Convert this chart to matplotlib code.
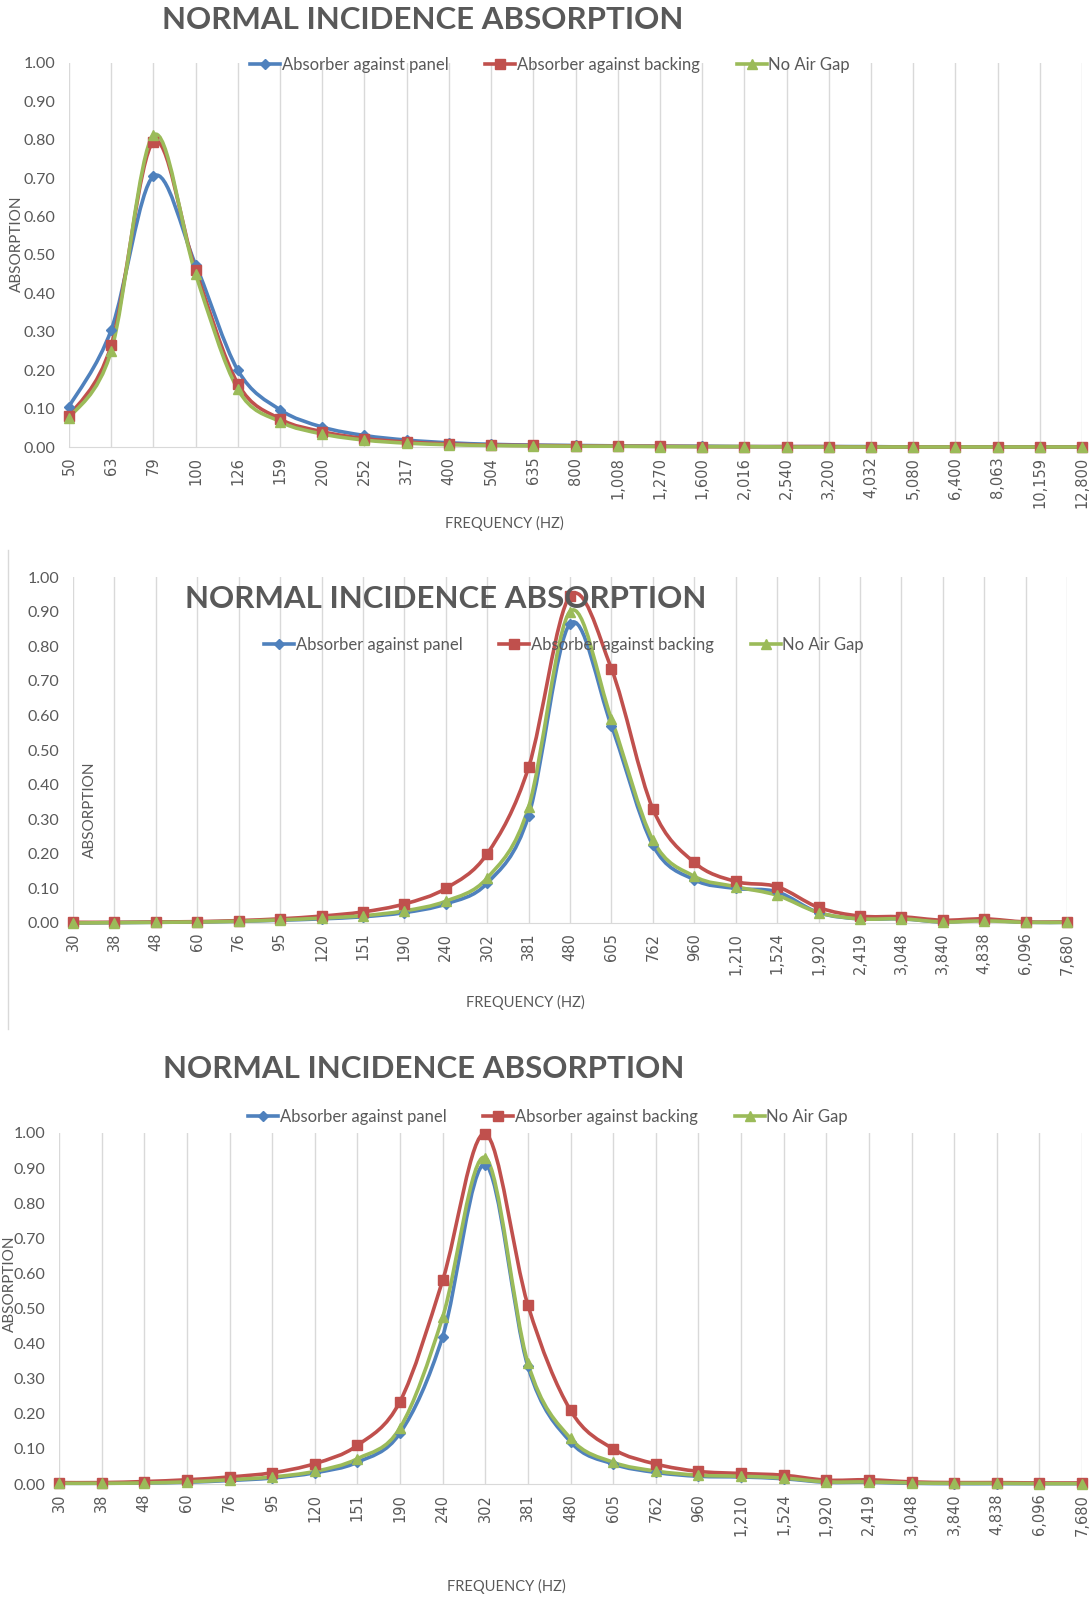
import numpy as np
import matplotlib
matplotlib.use("Agg")
import matplotlib.pyplot as plt
from matplotlib.path import Path
from matplotlib.patches import PathPatch
from matplotlib.lines import Line2D

plt.rcParams['font.family'] = ['Lato', 'DejaVu Sans']

# ---- data ----
freq1 = ["50", "63", "79", "100", "126", "159", "200", "252", "317", "400", "504", "635", "800",
         "1,008", "1,270", "1,600", "2,016", "2,540", "3,200", "4,032", "5,080", "6,400", "8,063",
         "10,159", "12,800"]
panel1_a = [0.105, 0.305, 0.705, 0.475, 0.200, 0.097, 0.052, 0.030, 0.018, 0.011, 0.007, 0.005, 0.004,
            0.003, 0.002, 0.002, 0.001, 0.001, 0.001, 0.001, 0.000, 0.000, 0.000, 0.000, 0.000]
panel1_b = [0.080, 0.265, 0.795, 0.460, 0.165, 0.073, 0.040, 0.022, 0.013, 0.008, 0.005, 0.004, 0.003,
            0.002, 0.002, 0.001, 0.001, 0.001, 0.001, 0.000, 0.000, 0.000, 0.000, 0.000, 0.000]
panel1_c = [0.075, 0.250, 0.812, 0.450, 0.150, 0.066, 0.034, 0.018, 0.010, 0.006, 0.004, 0.003, 0.002,
            0.002, 0.001, 0.001, 0.001, 0.000, 0.000, 0.000, 0.000, 0.000, 0.000, 0.000, 0.000]

freq2 = ["30", "38", "48", "60", "76", "95", "120", "151", "190", "240", "302", "381", "480", "605",
         "762", "960", "1,210", "1,524", "1,920", "2,419", "3,048", "3,840", "4,838", "6,096", "7,680"]
panel2_a = [0.000, 0.001, 0.002, 0.003, 0.005, 0.008, 0.012, 0.018, 0.030, 0.055, 0.115, 0.310, 0.865,
            0.570, 0.225, 0.125, 0.100, 0.090, 0.030, 0.012, 0.012, 0.003, 0.008, 0.002, 0.002]
panel2_b = [0.002, 0.002, 0.003, 0.004, 0.007, 0.012, 0.020, 0.032, 0.055, 0.100, 0.200, 0.450, 0.945,
            0.735, 0.330, 0.175, 0.120, 0.105, 0.045, 0.020, 0.018, 0.008, 0.012, 0.003, 0.003]
panel2_c = [0.000, 0.001, 0.002, 0.003, 0.005, 0.009, 0.014, 0.021, 0.035, 0.063, 0.130, 0.335, 0.900,
            0.590, 0.240, 0.135, 0.105, 0.080, 0.030, 0.012, 0.012, 0.003, 0.006, 0.002, 0.002]

freq3 = freq2
panel3_a = [0.002, 0.002, 0.003, 0.005, 0.010, 0.017, 0.032, 0.062, 0.145, 0.420, 0.910, 0.335, 0.120,
            0.057, 0.033, 0.022, 0.020, 0.015, 0.005, 0.005, 0.002, 0.001, 0.001, 0.001, 0.001]
panel3_b = [0.004, 0.004, 0.007, 0.012, 0.020, 0.032, 0.058, 0.110, 0.235, 0.580, 0.998, 0.510, 0.210,
            0.100, 0.057, 0.036, 0.030, 0.025, 0.011, 0.012, 0.006, 0.004, 0.004, 0.003, 0.003]
panel3_c = [0.002, 0.002, 0.003, 0.006, 0.012, 0.020, 0.036, 0.072, 0.160, 0.475, 0.930, 0.345, 0.130,
            0.062, 0.037, 0.025, 0.022, 0.017, 0.006, 0.006, 0.003, 0.002, 0.002, 0.001, 0.001]

series_names = ["Absorber against panel", "Absorber against backing", "No Air Gap"]
colors = ["#4F81BD", "#C0504D", "#9BBB59"]
markers = ["D", "s", "^"]
msizes = [5, 7, 7]

W, H = 1089, 1598
TXT = "#595959"


def fx(px):
    return px / W


def fy(py):
    return 1 - py / H


def smooth_path(x, y):
    # Excel-style smoothed line: cubic bezier through each point
    pts = np.column_stack([x, y]).astype(float)
    n = len(pts)
    verts = [pts[0]]
    codes = [Path.MOVETO]
    for i in range(n - 1):
        p0 = pts[i - 1] if i > 0 else pts[i]
        p1 = pts[i]
        p2 = pts[i + 1]
        p3 = pts[i + 2] if i + 2 < n else pts[i + 1]
        c1 = p1 + (p2 - p0) / 6.0
        c2 = p2 - (p3 - p1) / 6.0
        verts += [c1, c2, p2]
        codes += [Path.CURVE4] * 3
    return Path(verts, codes)


fig = plt.figure(figsize=(W / 100, H / 100), dpi=100)

# panel boxes in pixels: left, right, top(1.00), bottom(0.00)
panels = [
    dict(freq=freq1, data=[panel1_a, panel1_b, panel1_c], box=(69, 1082, 63, 447),
         title=(423, 20), legend=(550, 65), xlabel=(504, 523), ylabel=(17, 244)),
    dict(freq=freq2, data=[panel2_a, panel2_b, panel2_c], box=(73, 1067, 577, 923),
         title=(446, 599), legend=(564, 645), xlabel=(525, 1002), ylabel=(90, 810)),
    dict(freq=freq3, data=[panel3_a, panel3_b, panel3_c], box=(59, 1082, 1133, 1484),
         title=(424, 1069), legend=(548, 1117), xlabel=(506, 1586), ylabel=(10, 1284)),
]

for p in panels:
    l, r, t, b = p["box"]
    ax = fig.add_axes([fx(l), fy(b), fx(r) - fx(l), fy(t) - fy(b)])
    xs = np.arange(len(p["freq"]))
    for vals, c, m, ms in zip(p["data"], colors, markers, msizes):
        ax.add_patch(PathPatch(smooth_path(xs, vals), facecolor="none", edgecolor=c,
                               lw=2.6, zorder=3, clip_on=False))
        ax.plot(xs, vals, linestyle="none", marker=m, color=c, ms=ms, zorder=4, clip_on=False)
    ax.set_xlim(0, len(xs) - 1)
    ax.set_ylim(0, 1.0)
    ax.set_xticks(xs)
    ax.set_xticklabels(p["freq"], rotation=90, fontsize=10.5, color=TXT, family="DejaVu Sans")
    ax.set_yticks(np.arange(0, 1.01, 0.1))
    ax.set_yticklabels([f"{v:.2f}" for v in np.arange(0, 1.01, 0.1)], fontsize=11.5, color=TXT)
    ax.tick_params(length=0, pad=7)
    ax.tick_params(axis="y", pad=10)
    ax.grid(axis="x", color="#D9D9D9", lw=1)
    ax.set_axisbelow(True)
    for s in ["top", "right", "left"]:
        ax.spines[s].set_visible(False)
    ax.spines["bottom"].set_color("#D9D9D9")

    fig.text(fx(p["title"][0]), fy(p["title"][1]), "NORMAL INCIDENCE ABSORPTION",
             ha="center", va="center", fontsize=22.5, fontweight="bold", color=TXT)
    fig.text(fx(p["xlabel"][0]), fy(p["xlabel"][1]), "FREQUENCY (HZ)",
             ha="center", va="center", fontsize=10.5, color=TXT)
    fig.text(fx(p["ylabel"][0]), fy(p["ylabel"][1]), "ABSORPTION", rotation=90,
             ha="center", va="center", fontsize=11, color=TXT)

    handles = [Line2D([0], [0], color=c, lw=2.6, marker=m, ms=ms)
               for c, m, ms in zip(colors, markers, msizes)]
    ax.legend(handles, series_names, loc="center", ncol=3, frameon=False,
              bbox_to_anchor=(fx(p["legend"][0]), fy(p["legend"][1])),
              bbox_transform=fig.transFigure, fontsize=12, handlelength=1.8,
              handletextpad=0.1, columnspacing=2.2, labelcolor=TXT)

# faint chart border left of the middle panel
fig.add_artist(Line2D([fx(8), fx(8)], [fy(550), fy(1029)], color="#D9D9D9", lw=1))

fig.savefig("out.png", dpi=100, facecolor="white")
